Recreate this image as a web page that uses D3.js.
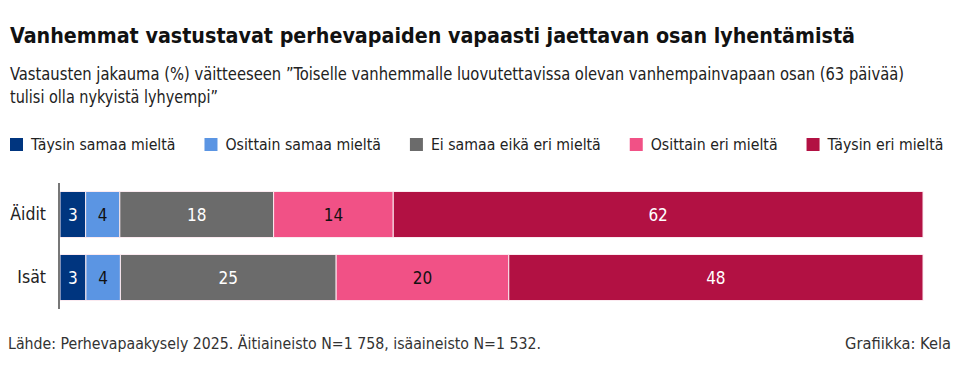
<!DOCTYPE html>
<html lang="fi">
<head>
<meta charset="UTF-8">
<title>Vanhemmat vastustavat perhevapaiden vapaasti jaettavan osan lyhentämistä</title>
<script src="https://cdn.jsdelivr.net/npm/d3@7"></script>
<style>
    body { margin: 0; background: #fff; }
    svg { display: block; }
</style>
</head>
<body>
<script>

    var width = 960;
    var height = 374;

    // data
    var groups = ['Äidit', 'Isät'];
    var answers = ['Täysin samaa mieltä', 'Osittain samaa mieltä', 'Ei samaa eikä eri mieltä', 'Osittain eri mieltä', 'Täysin eri mieltä'];
    var aidit = [3, 4, 18, 14, 62];
    var isat = [3, 4, 25, 20, 48];
    var colors = ['#00357f', '#5b95e3', '#6b6b6b', '#f15186', '#b21143'];
    var labelColors = ['#fff', '#111', '#fff', '#111', '#fff'];

    var rows = [aidit, isat].map(function (vals, i) {
        var row = { group: groups[i] };
        answers.forEach(function (a, j) { row[a] = vals[j]; });
        return row;
    });

    var svg = d3.select('body')
        .append('svg')
        .attr('width', width)
        .attr('height', height);

    var narrow = '"Liberation Sans Narrow", "DejaVu Sans Condensed", sans-serif';

    // squeeze a text to the width it has in the picture
    function fit(sel, w) {
        if (sel.node().getComputedTextLength() > w) {
            sel.attr('textLength', w).attr('lengthAdjust', 'spacingAndGlyphs');
        }
        return sel;
    }

    // title + subtitle
    fit(svg.append('text')
        .attr('x', 10).attr('y', 43)
        .attr('font-family', narrow)
        .attr('font-weight', 'bold')
        .attr('font-size', 22)
        .attr('fill', '#111')
        .text('Vanhemmat vastustavat perhevapaiden vapaasti jaettavan osan lyhentämistä'), 845);

    var sub = svg.append('g')
        .attr('font-family', narrow)
        .attr('font-size', 17)
        .attr('fill', '#222');
    fit(sub.append('text').attr('x', 10).attr('y', 80)
        .text('Vastausten jakauma (%) väitteeseen ”Toiselle vanhemmalle luovutettavissa olevan vanhempainvapaan osan (63 päivää)'), 894);
    fit(sub.append('text').attr('x', 10).attr('y', 103)
        .text('tulisi olla nykyistä lyhyempi”'), 208);

    // legend
    var legend = svg.append('g').attr('transform', 'translate(10,138)');
    var lx = 0;
    answers.forEach(function (a, i) {
        var item = legend.append('g').attr('transform', 'translate(' + lx + ',0)');
        item.append('rect')
            .attr('width', 13).attr('height', 13)
            .attr('fill', colors[i]);
        var t = item.append('text')
            .attr('x', 21).attr('y', 12)
            .attr('font-family', narrow)
            .attr('font-size', 15.7)
            .attr('fill', '#222')
            .text(a);
        lx += 21 + t.node().getComputedTextLength() + 29;
    });

    // scales
    var x = d3.scaleLinear().domain([0, 1]).range([60, 923]);
    var y = d3.scaleBand()
        .domain(groups)
        .range([183, 309])
        .paddingInner(0.27)
        .paddingOuter(0.135);

    var stack = d3.stack()
        .keys(answers)
        .offset(d3.stackOffsetExpand);
    var series = stack(rows);

    var layer = svg.selectAll('g.layer')
        .data(series)
        .enter()
        .append('g')
        .attr('class', 'layer')
        .attr('fill', function (d, i) { return colors[i]; });

    layer.selectAll('rect')
        .data(function (d) { return d; })
        .enter()
        .append('rect')
        .attr('x', function (d) { return x(d[0]); })
        .attr('y', function (d) { return y(d.data.group); })
        .attr('width', function (d) { return x(d[1]) - x(d[0]); })
        .attr('height', y.bandwidth())
        .attr('stroke', '#fbeaf0')
        .attr('stroke-width', 1);

    layer.each(function (s, i) {
        d3.select(this).selectAll('text.val')
            .data(s)
            .enter()
            .append('text')
            .attr('class', 'val')
            .attr('x', function (d) { return (x(d[0]) + x(d[1])) / 2; })
            .attr('y', function (d) { return y(d.data.group) + y.bandwidth() / 2 + 6; })
            .attr('text-anchor', 'middle')
            .attr('font-family', narrow)
            .attr('font-size', 17)
            .attr('fill', labelColors[i])
            .text(function (d) { return d.data[s.key]; });
    });

    // axis
    var axis = d3.axisLeft(y).tickSize(0).tickPadding(13);
    var ax = svg.append('g')
        .attr('class', 'axis')
        .attr('transform', 'translate(59,0)')
        .call(axis);
    ax.select('.domain')
        .attr('d', 'M0,183V309')
        .attr('stroke', '#777')
        .attr('stroke-width', 2);
    ax.selectAll('text')
        .attr('font-family', narrow)
        .attr('font-size', 17.5)
        .attr('fill', '#222');

    // footer
    fit(svg.append('text')
        .attr('x', 8).attr('y', 349)
        .attr('font-family', narrow)
        .attr('font-size', 16.5)
        .attr('fill', '#333')
        .text('Lähde: Perhevapaakysely 2025. Äitiaineisto N=1 758, isäaineisto N=1 532.'), 533);
    fit(svg.append('text')
        .attr('x', 951).attr('y', 349)
        .attr('text-anchor', 'end')
        .attr('font-family', narrow)
        .attr('font-size', 16.5)
        .attr('fill', '#333')
        .text('Grafiikka: Kela'), 106);

</script>
</body>
</html>
